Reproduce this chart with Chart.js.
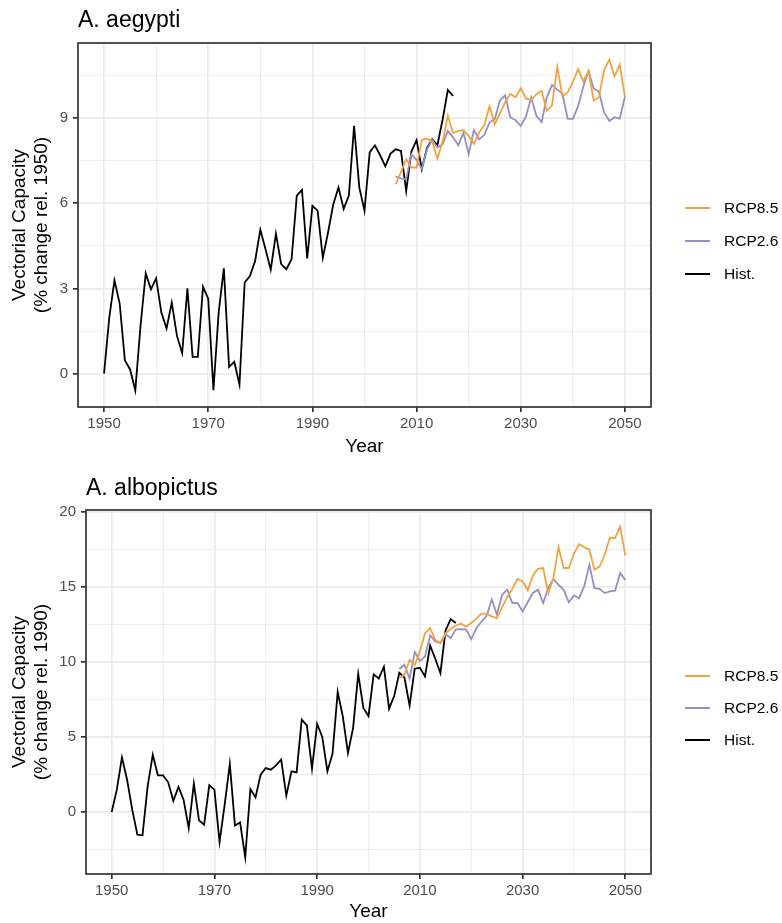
<!DOCTYPE html>
<html>
<head>
<meta charset="utf-8">
<script src="https://cdn.jsdelivr.net/npm/chart.js@4.4.1/dist/chart.umd.min.js"></script>
<style>
  html, body { margin: 0; padding: 0; background: #fff; }
  body { width: 782px; height: 923px; position: relative; overflow: hidden;
         font-family: "Liberation Sans", Arial, sans-serif; }
  .panel { position: absolute; left: 0; }
  .legend { position: absolute; left: 685px; font-size: 15.5px; color: #000; }
  .legend .row { position: absolute; left: 0; width: 100px; height: 20px; white-space: nowrap; }
  .legend .key { position: absolute; left: 0; top: 9px; width: 25px; height: 2px; }
  .legend .txt { position: absolute; left: 39px; top: 1px; line-height: 18px; }
</style>
</head>
<body>
<div class="panel" style="top:0"><canvas id="c1" width="782" height="462"></canvas></div>
<div class="panel" style="top:462px"><canvas id="c2" width="782" height="461"></canvas></div>

<div class="legend" style="top:198px">
  <div class="row" style="top:0"><span class="key" style="background:#f1a340"></span><span class="txt">RCP8.5</span></div>
  <div class="row" style="top:33px"><span class="key" style="background:#998ec3"></span><span class="txt">RCP2.6</span></div>
  <div class="row" style="top:66px"><span class="key" style="background:#000"></span><span class="txt">Hist.</span></div>
</div>
<div class="legend" style="top:666px">
  <div class="row" style="top:0"><span class="key" style="background:#f1a340"></span><span class="txt">RCP8.5</span></div>
  <div class="row" style="top:32px"><span class="key" style="background:#998ec3"></span><span class="txt">RCP2.6</span></div>
  <div class="row" style="top:64px"><span class="key" style="background:#000"></span><span class="txt">Hist.</span></div>
</div>

<script>
// ---- data ----
const HIST_START = 1950;   // Hist. runs 1950-2017
const RCP_START = 2006;    // scenarios run 2006-2050

// A. aegypti, % change rel. 1950
const aegyptiHist = [
  0, 1.97, 3.29, 2.47, 0.47, 0.15, -0.59, 1.68, 3.53, 2.97,
  3.36, 2.15, 1.59, 2.5, 1.33, 0.72, 3.01, 0.59, 0.59, 3.06,
  2.64, -0.58, 2.15, 3.71, 0.24, 0.42, -0.38, 3.21, 3.44, 3.97,
  5.07, 4.38, 3.66, 4.93, 3.86, 3.68, 4.03, 6.27, 6.47, 4.06,
  5.91, 5.74, 4.08, 4.97, 5.96, 6.56, 5.8, 6.27, 8.73, 6.56,
  5.74, 7.79, 8.04, 7.69, 7.3, 7.75, 7.9, 7.84, 6.43, 7.82,
  8.22, 7.2, 7.95, 8.25, 8.05, 8.95, 9.99, 9.78
];
const aegyptiRcp85 = [
  6.67, 7.1, 7.55, 7.26, 7.26, 8.23, 8.28, 8.17, 7.57, 8.17,
  9.08, 8.47, 8.55, 8.57, 8.37, 8.09, 8.49, 8.75, 9.41, 8.78,
  9.16, 9.56, 9.85, 9.73, 10.05, 9.69, 9.63, 9.84, 9.96, 9.26,
  9.45, 10.8, 9.76, 9.9, 10.27, 10.72, 10.28, 10.66, 9.61, 9.73,
  10.69, 11.06, 10.47, 10.89, 9.74
];
const aegyptiRcp26 = [
  6.94, 6.88, 6.85, 7.73, 7.52, 7.2, 7.9, 8.23, 7.96, 8.08,
  8.55, 8.32, 8.04, 8.48, 7.73, 8.58, 8.25, 8.41, 8.84, 8.96,
  9.62, 9.8, 9.02, 8.92, 8.72, 9.06, 9.72, 9.08, 8.86, 9.73,
  10.16, 10.0, 9.86, 8.97, 8.97, 9.41, 10.1, 10.66, 10.04, 9.93,
  9.2, 8.9, 9.03, 8.98, 9.76
];

// A. albopictus, % change rel. 1990
const albopictusHist = [
  0, 1.49, 3.64, 2.15, 0.16, -1.51, -1.55, 1.71, 3.82, 2.44,
  2.44, 1.98, 0.75, 1.67, 0.82, -1.07, 1.89, -0.55, -0.84, 1.78,
  1.49, -2.0, 0.49, 3.2, -0.89, -0.69, -3.02, 1.53, 0.98, 2.49,
  2.93, 2.82, 3.11, 3.49, 1.09, 2.71, 2.64, 6.15, 5.77, 2.89,
  5.86, 5.0, 2.71, 3.89, 7.99, 6.37, 3.93, 5.59, 9.2, 6.93,
  6.39, 9.16, 8.89, 9.67, 6.88, 7.72, 9.27, 8.94, 7.1, 9.54,
  9.6, 9.03, 11.07, 10.2, 9.25, 12.09, 12.84, 12.58
];
const albopictusRcp85 = [
  8.92, 9.13, 10.12, 9.78, 10.69, 11.9, 12.24, 11.46, 11.24, 11.9,
  12.2, 12.4, 12.55, 12.33, 12.58, 12.87, 13.2, 13.2, 13.02, 12.9,
  13.62, 14.3, 14.85, 15.51, 15.35, 14.76, 15.73, 16.19, 16.24, 14.58,
  15.58, 17.63, 16.24, 16.24, 17.19, 17.83, 17.63, 17.46, 16.13, 16.35,
  17.12, 18.27, 18.23, 19.0, 17.06
];
const albopictusRcp26 = [
  9.52, 9.8, 8.88, 10.66, 10.04, 10.35, 11.76, 11.35, 11.24, 11.85,
  11.57, 12.16, 12.17, 12.16, 11.5, 12.24, 12.68, 13.06, 14.14, 13.15,
  14.45, 14.8, 13.9, 13.92, 13.35, 13.96, 14.58, 14.8, 13.9, 14.9,
  15.5, 15.12, 14.79, 13.96, 14.42, 14.23, 15.03, 16.45, 14.9, 14.85,
  14.57, 14.68, 14.73, 15.9, 15.45
];

// tick labels
const xMajor = [1950, 1970, 1990, 2010, 2030, 2050];
const xMinor = [1960, 1980, 2000, 2020, 2040];
const aegyptiYMajor = [0, 3, 6, 9];
const aegyptiYMinor = [1.5, 4.5, 7.5, 10.5];
const albopictusYMajor = [0, 5, 10, 15, 20];
const albopictusYMinor = [-2.5, 2.5, 7.5, 12.5, 17.5];

const COL_85 = "#f1a340";
const COL_26 = "#998ec3";
const COL_HIST = "#000000";
const FONT = "'Liberation Sans', Arial, sans-serif";

// ggplot-style 5% expansion
function padRange(lo, hi) {
  const d = (hi - lo) * 0.05;
  return [lo - d, hi + d];
}

const panelBorder = {
  id: "panelBorder",
  afterDatasetsDraw(chart) {
    const { ctx, chartArea: a } = chart;
    ctx.save();
    ctx.strokeStyle = "#333333";
    ctx.lineWidth = 1.7;
    ctx.strokeRect(a.left, a.top, a.right - a.left, a.bottom - a.top);
    ctx.restore();
  }
};

function series(label, start, vals, color) {
  return {
    label,
    data: vals.map((v, i) => ({ x: start + i, y: v })),
    borderColor: color,
    backgroundColor: color,
    borderWidth: 1.8,
    pointRadius: 0,
    tension: 0
  };
}

function makePanel(id, p) {
  const all = [].concat(p.hist, p.rcp85, p.rcp26);
  const [yMin, yMax] = padRange(Math.min(...all), Math.max(...all));
  const [xMin, xMax] = padRange(xMajor[0], xMajor[xMajor.length - 1]);

  const gridOpts = (major) => ({
    drawTicks: true,
    tickLength: 5,
    color: "#EBEBEB",
    lineWidth: (c) => (c.tick && major.includes(c.tick.value) ? 1.7 : 0.85),
    tickColor: (c) => (c.tick && major.includes(c.tick.value) ? "#333333" : "rgba(0,0,0,0)"),
    tickWidth: 1.7
  });

  return new Chart(document.getElementById(id), {
    type: "line",
    data: {
      datasets: [
        series("RCP8.5", RCP_START, p.rcp85, COL_85),
        series("RCP2.6", RCP_START, p.rcp26, COL_26),
        series("Hist.", HIST_START, p.hist, COL_HIST)
      ]
    },
    options: {
      responsive: false,
      devicePixelRatio: 1,
      animation: false,
      events: [],
      layout: { padding: { left: 0, right: 131, top: 0, bottom: 0 } },
      plugins: {
        legend: { display: false },
        tooltip: { enabled: false },
        title: {
          display: true,
          text: p.title,
          align: "start",
          fullSize: false,
          color: "#000",
          font: { family: FONT, size: 23, weight: "normal" },
          padding: p.titlePad
        }
      },
      scales: {
        x: {
          type: "linear",
          min: xMin,
          max: xMax,
          afterBuildTicks: (s) => { s.ticks = xMajor.concat(xMinor).sort().map((v) => ({ value: v })); },
          afterFit: (s) => { s.height = p.xHeight; },
          ticks: {
            autoSkip: false,
            maxRotation: 0,
            padding: 3,
            color: "#4D4D4D",
            font: { family: FONT, size: 15 },
            callback: (v) => (xMajor.includes(v) ? String(v) : "")
          },
          grid: gridOpts(xMajor),
          border: { display: false },
          title: {
            display: true,
            text: "Year",
            color: "#000",
            font: { family: FONT, size: 19 },
            padding: { top: 0, bottom: p.xTitlePad }
          }
        },
        y: {
          type: "linear",
          min: yMin,
          max: yMax,
          afterBuildTicks: (s) => { s.ticks = p.yMajor.concat(p.yMinor).sort((a, b) => a - b).map((v) => ({ value: v })); },
          afterFit: (s) => { s.width = p.yWidth; },
          ticks: {
            autoSkip: false,
            padding: 5,
            color: "#4D4D4D",
            font: { family: FONT, size: 15 },
            callback: (v) => (p.yMajor.includes(v) ? String(v) : "")
          },
          grid: gridOpts(p.yMajor),
          border: { display: false },
          title: {
            display: true,
            text: ["Vectorial Capacity", p.yRel],
            color: "#000",
            font: { family: FONT, size: 19 },
            padding: { top: 8, bottom: 0 }
          }
        }
      }
    },
    plugins: [panelBorder]
  });
}

makePanel("c1", {
  title: "A. aegypti",
  yRel: "(% change rel. 1950)",
  hist: aegyptiHist, rcp85: aegyptiRcp85, rcp26: aegyptiRcp26,
  yMajor: aegyptiYMajor, yMinor: aegyptiYMinor,
  titlePad: { top: 7, bottom: 8.4 },
  yWidth: 78, xHeight: 55, xTitlePad: 4
});

makePanel("c2", {
  title: "A. albopictus",
  yRel: "(% change rel. 1990)",
  hist: albopictusHist, rcp85: albopictusRcp85, rcp26: albopictusRcp26,
  yMajor: albopictusYMajor, yMinor: albopictusYMinor,
  titlePad: { top: 13, bottom: 7.4 },
  yWidth: 86, xHeight: 49, xTitlePad: 0
});
</script>
</body>
</html>
